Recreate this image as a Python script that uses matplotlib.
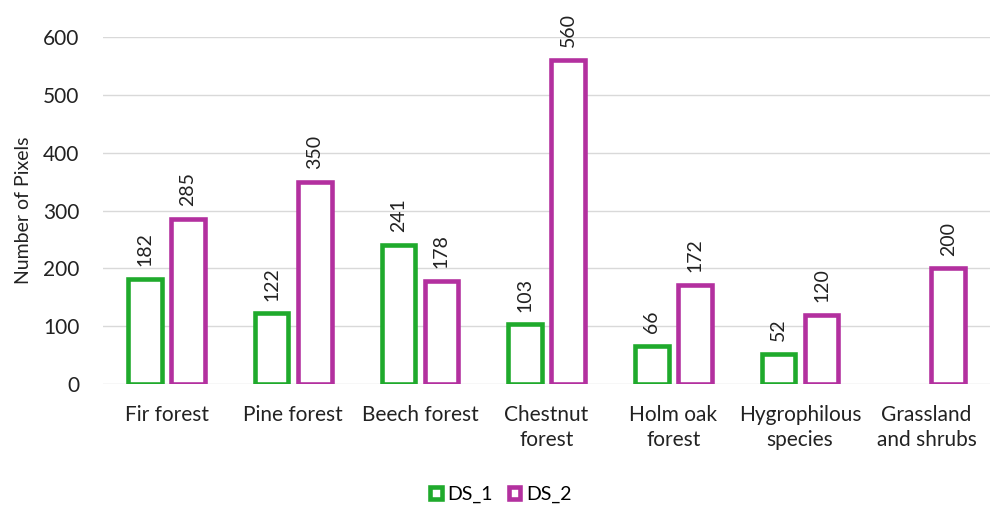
import numpy as np
import matplotlib
matplotlib.use("Agg")
from matplotlib import pyplot as plt
from matplotlib.patches import Patch

categories = ["Fir forest", "Pine forest", "Beech forest", "Chestnut\nforest",
              "Holm oak\nforest", "Hygrophilous\nspecies", "Grassland\nand shrubs"]
ds1 = [182, 122, 241, 103, 66, 52, np.nan]
ds2 = [285, 350, 178, 560, 172, 120, 200]

green = "#1faa2c"
magenta = "#b3309f"

plt.rcParams['font.family'] = ['Lato', 'DejaVu Sans']

fig = plt.figure(figsize=(9.92, 5.07), dpi=100)
ax = fig.add_axes([0.104, 0.2426, 0.894, 0.6844])

x = np.arange(len(categories))
w = 0.265
off = 0.17
ax.bar(x - off, ds1, w, facecolor="white", edgecolor=green, linewidth=3.3)
ax.bar(x + off, ds2, w, facecolor="white", edgecolor=magenta, linewidth=3.3)

for xs, vals in ((x - off, ds1), (x + off, ds2)):
    for xi, v in zip(xs, vals):
        if np.isnan(v):
            continue
        ax.text(xi, v + 22, str(v), rotation=90, ha="center", va="bottom",
                fontsize=14, color="#222222")

ax.set_xlim(-0.5, len(categories) - 0.5)
ax.set_ylim(0, 600)
ax.set_yticks(range(0, 601, 100))
ax.yaxis.grid(True, color="#d9d9d9", linewidth=1)
ax.set_axisbelow(True)
for s in ax.spines.values():
    s.set_visible(False)
ax.tick_params(axis="both", length=0, labelsize=15, colors="#222222")
ax.tick_params(axis="y", pad=17)
ax.tick_params(axis="x", pad=15)
ax.set_xticks(x)
ax.set_xticklabels(categories, linespacing=1.35)
ax.set_ylabel("Number of Pixels", fontsize=14, color="#222222", labelpad=8)

handles = [Patch(facecolor="white", edgecolor=green, linewidth=3.3, label="DS_1"),
           Patch(facecolor="white", edgecolor=magenta, linewidth=3.3, label="DS_2")]
fig.legend(handles=handles, loc="center", bbox_to_anchor=(0.505, 0.025), ncol=2,
           frameon=False, fontsize=14, handlelength=0.6, handleheight=0.6,
           handletextpad=0.3, columnspacing=0.8)

fig.savefig("out.png", dpi=100)
